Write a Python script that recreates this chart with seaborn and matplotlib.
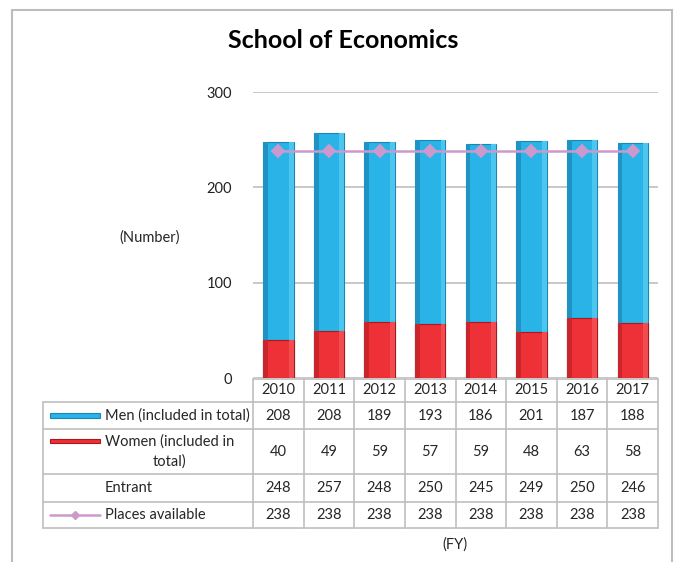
import matplotlib
matplotlib.use("Agg")
import matplotlib.pyplot as plt
import matplotlib.transforms as mtransforms
from matplotlib.patches import Rectangle
from matplotlib.lines import Line2D
import seaborn as sns
import pandas as pd

years = ["2010", "2011", "2012", "2013", "2014", "2015", "2016", "2017"]
men = [208, 208, 189, 193, 186, 201, 187, 188]
women = [40, 49, 59, 57, 59, 48, 63, 58]
entrant = [248, 257, 248, 250, 245, 249, 250, 246]
places = [238, 238, 238, 238, 238, 238, 238, 238]

row_labels = ["Men (included in total)", "Women (included in\ntotal)", "Entrant", "Places available"]

BLUE = "#2AB3E6"
BLUE_DARK = "#1F93C4"
BLUE_LIGHT = "#4CC6EE"
BLUE_EDGE = "#1B86B4"
RED = "#EE3136"
RED_DARK = "#C9252A"
RED_LIGHT = "#F24B50"
RED_EDGE = "#A8191C"
PINK = "#CC99CC"
GRID = "#BFBFBF"

W, H = 676, 562


def fx(px):
    return px / W


def fy(py):
    return 1 - py / H


def bevel(ax, patches, dark, light):
    # fake the Excel 3D bevel with side strips on each bar
    for p in patches:
        x, y = p.get_x(), p.get_y()
        w, h = p.get_width(), p.get_height()
        ax.add_patch(Rectangle((x, y), w * 0.16, h, facecolor=dark,
                               edgecolor="none", zorder=p.get_zorder() + 0.1))
        ax.add_patch(Rectangle((x + w * 0.84, y), w * 0.16, h, facecolor=light,
                               edgecolor="none", zorder=p.get_zorder() + 0.1))


def main():
    sns.set_theme(style="white")
    plt.rcParams["font.family"] = ["Lato", "DejaVu Sans"]

    df = pd.DataFrame({"year": years, "men": men, "women": women,
                       "entrant": entrant, "places": places})
    df["total"] = df["men"] + df["women"]

    fig = plt.figure(figsize=(W / 100, H / 100), dpi=100)
    ax = fig.add_axes([fx(253), fy(378), fx(658) - fx(253), fy(92) - fy(378)])

    sns.barplot(data=df, x="year", y="total", order=years, color=BLUE,
                width=0.6, saturation=1, edgecolor=BLUE_EDGE, linewidth=0.8, ax=ax)
    blue_bars = list(ax.patches)
    bevel(ax, blue_bars, BLUE_DARK, BLUE_LIGHT)
    n_before = len(ax.patches)
    sns.barplot(data=df, x="year", y="women", order=years, color=RED,
                width=0.6, saturation=1, edgecolor=RED_EDGE, linewidth=0.8, ax=ax)
    red_bars = list(ax.patches)[n_before:]
    for p in red_bars:
        p.set_zorder(3)
    bevel(ax, red_bars, RED_DARK, RED_LIGHT)
    sns.pointplot(data=df, x="year", y="places", order=years, color=PINK,
                  markers="D", markersize=6, linewidth=1.8, ax=ax)
    for ln in ax.lines:
        ln.set_zorder(5)
    for c in ax.collections:
        c.set_zorder(5)

    ax.set_ylim(0, 300)
    ax.set_xlim(-0.5, len(years) - 0.5)
    ax.set_yticks([0, 100, 200, 300])
    ax.yaxis.grid(True, color=GRID, linewidth=1.2)
    ax.set_axisbelow(True)
    for s in ax.spines.values():
        s.set_visible(False)
    ax.tick_params(axis="y", length=0, pad=15, labelsize=10.5, labelcolor="#222222")
    ax.set_xticks([])
    ax.set_xlabel("")
    ax.set_ylabel("")

    fig.text(fx(343), fy(40), "School of Economics", ha="center", va="center",
             fontsize=18, fontweight="bold", color="black")
    fig.text(fx(150), fy(238), "(Number)", ha="center", va="center", fontsize=10.5)
    fig.text(fx(455), fy(545), "(FY)", ha="center", va="center", fontsize=10.5)

    # outer frame
    fig.add_artist(Rectangle((fx(12), fy(580)), fx(672) - fx(12), fy(10) - fy(580),
                             transform=fig.transFigure, fill=False,
                             edgecolor="#BDBDBD", linewidth=1.5))

    # data table
    tr = mtransforms.blended_transform_factory(ax.transData, fig.transFigure)
    rows_y = [379, 402, 429, 474, 502, 528]
    n = len(years)
    lw = 1.2
    for i, y in enumerate(rows_y):
        if i > 0:
            fig.add_artist(Line2D([fx(43), fx(253)], [fy(y), fy(y)],
                                  transform=fig.transFigure, color=GRID, linewidth=lw))
        fig.add_artist(Line2D([-0.5, n - 0.5], [fy(y), fy(y)], transform=tr,
                              color=GRID, linewidth=lw))
    for k in range(n + 1):
        fig.add_artist(Line2D([k - 0.5, k - 0.5], [fy(rows_y[0]), fy(rows_y[-1])],
                              transform=tr, color=GRID, linewidth=lw))
    fig.add_artist(Line2D([fx(43), fx(43)], [fy(rows_y[1]), fy(rows_y[-1])],
                          transform=fig.transFigure, color=GRID, linewidth=lw))

    # header
    yc = fy((rows_y[0] + rows_y[1]) / 2)
    for k, yr in enumerate(years):
        fig.text(k, yc, yr, transform=tr, ha="center", va="center", fontsize=10.5)

    series = [men, women, entrant, places]
    for r, vals in enumerate(series):
        yc = fy((rows_y[r + 1] + rows_y[r + 2]) / 2)
        for k, v in enumerate(vals):
            fig.text(k, yc, str(v), transform=tr, ha="center", va="center", fontsize=10.5)
        if r == 1:
            fig.text(fx(105), yc, row_labels[r], ha="left", va="center",
                     multialignment="center", fontsize=10.5, linespacing=1.5)
            ykey = fy(rows_y[r + 1] + 12)
        else:
            fig.text(fx(105), yc, row_labels[r], ha="left", va="center", fontsize=10.5)
            ykey = yc
        if r == 0:
            fig.add_artist(Rectangle((fx(50), ykey - 0.0036), fx(50), 0.0072,
                                     transform=fig.transFigure, facecolor=BLUE,
                                     edgecolor=BLUE_EDGE, linewidth=0.8))
        elif r == 1:
            fig.add_artist(Rectangle((fx(50), ykey - 0.0036), fx(50), 0.0072,
                                     transform=fig.transFigure, facecolor=RED,
                                     edgecolor=RED_EDGE, linewidth=0.8))
        elif r == 3:
            fig.add_artist(Line2D([fx(50), fx(100)], [ykey, ykey],
                                  transform=fig.transFigure, color=PINK, linewidth=1.8))
            fig.add_artist(Line2D([fx(75)], [ykey], transform=fig.transFigure,
                                  color=PINK, marker="D", markersize=4))

    fig.savefig("out.png", dpi=100)


if __name__ == "__main__":
    main()
